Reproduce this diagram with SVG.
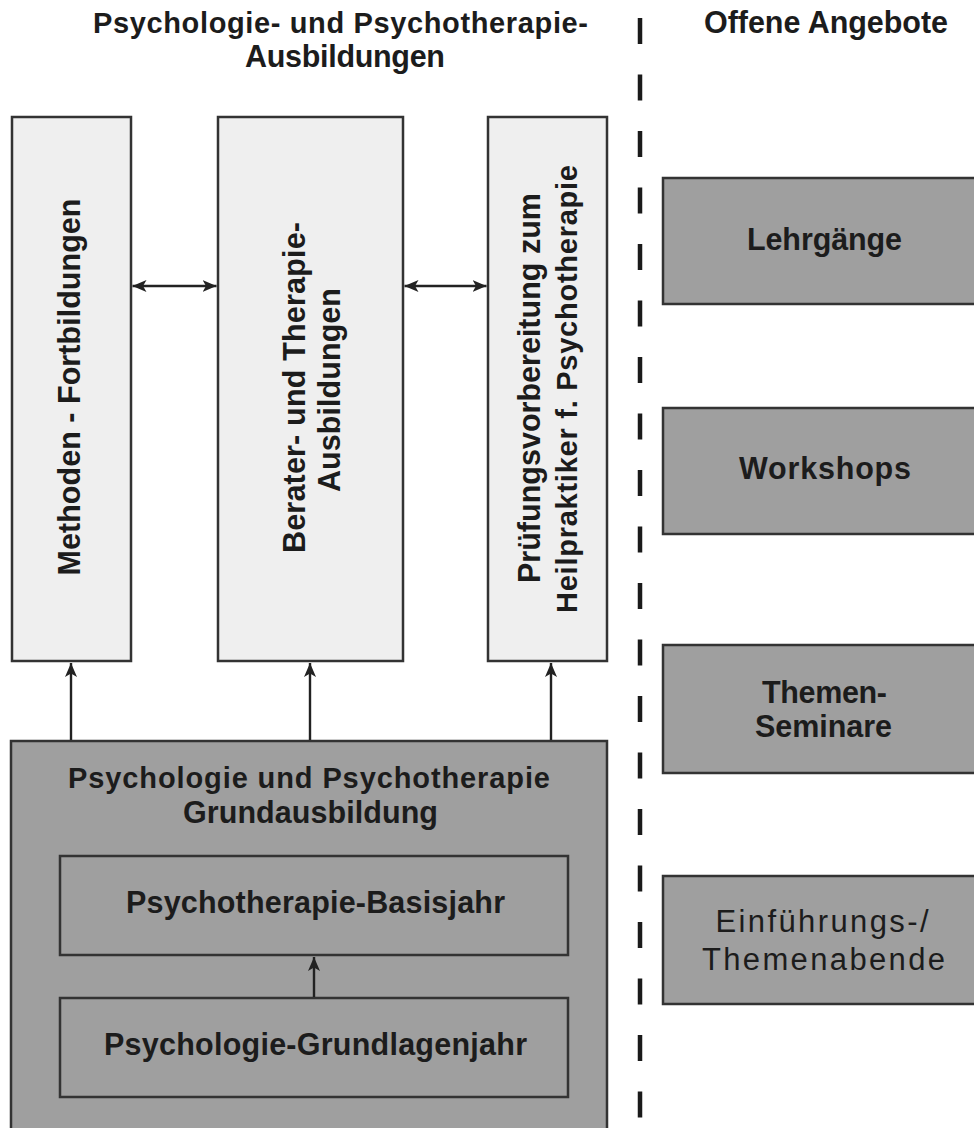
<svg xmlns="http://www.w3.org/2000/svg" width="974" height="1128" viewBox="0 0 974 1128">
<style>
.light{fill:#efefef;stroke:#333;stroke-width:2.5}
.dark{fill:#9f9f9f;stroke:#333;stroke-width:2.5}
.b{font-family:"Liberation Sans",Arial,sans-serif;font-weight:bold;font-size:30.5px;fill:#1c1c1c;text-anchor:middle}
.r{font-family:"Liberation Sans",Arial,sans-serif;font-weight:normal;font-size:31px;fill:#1c1c1c;text-anchor:middle}
.conn{stroke:#222;stroke-width:2.4;fill:none}
</style>
<defs>
<marker id="ah" viewBox="0 0 14 12" refX="14" refY="6" markerWidth="14" markerHeight="12" markerUnits="userSpaceOnUse" orient="auto-start-reverse">
<path d="M0,0 L14,6 L0,12 L3.5,6 z" fill="#222"/>
</marker>
</defs>
<rect width="974" height="1128" fill="#fff"/>
<g id="headers">
<text class="b" x="340.5" y="33" textLength="495" style="font-size:29px">Psychologie- und Psychotherapie-</text>
<text class="b" x="345" y="67" textLength="200">Ausbildungen</text>
<text class="b" x="826" y="33" textLength="244">Offene Angebote</text>
</g>
<g id="divider">
<line x1="640" y1="18" x2="640" y2="1128" stroke="#1a1a1a" stroke-width="4.5" stroke-dasharray="26 30.5"/>
</g>
<g id="methoden">
<rect class="light" x="12" y="117" width="119" height="544"/>
<text class="b" transform="translate(80,387) rotate(-90)" textLength="377">Methoden - Fortbildungen</text>
</g>
<g id="berater">
<rect class="light" x="218" y="117" width="185" height="544"/>
<text class="b" transform="translate(305,387.5) rotate(-90)" textLength="331">Berater- und Therapie-</text>
<text class="b" transform="translate(340,390) rotate(-90)" textLength="204">Ausbildungen</text>
</g>
<g id="pruefung">
<rect class="light" x="488" y="117" width="119" height="544"/>
<text class="b" transform="translate(540,388) rotate(-90)" textLength="390">Prüfungsvorbereitung zum</text>
<text class="b" transform="translate(577,389) rotate(-90)" textLength="448" style="font-size:29px">Heilpraktiker f. Psychotherapie</text>
</g>
<g id="grundausbildung">
<rect class="dark" x="11" y="741" width="596" height="400"/>
<text class="b" x="309" y="788" textLength="482" style="font-size:29px">Psychologie und Psychotherapie</text>
<text class="b" x="310.5" y="823" textLength="255">Grundausbildung</text>
</g>
<g id="basisjahr">
<rect class="dark" x="60" y="856" width="508" height="99"/>
<text class="b" x="315.5" y="913" textLength="379">Psychotherapie-Basisjahr</text>
</g>
<g id="grundlagenjahr">
<rect class="dark" x="60" y="998" width="508" height="99"/>
<text class="b" x="315.5" y="1055" textLength="423">Psychologie-Grundlagenjahr</text>
</g>
<g id="lehrgaenge">
<rect class="dark" x="663" y="178" width="330" height="126"/>
<text class="b" x="824.5" y="250" textLength="155">Lehrgänge</text>
</g>
<g id="workshops">
<rect class="dark" x="663" y="408" width="330" height="126"/>
<text class="b" x="825" y="479" textLength="172">Workshops</text>
</g>
<g id="themenseminare">
<rect class="dark" x="663" y="645" width="330" height="128"/>
<text class="b" x="824.5" y="703" textLength="125">Themen-</text>
<text class="b" x="823.5" y="737" textLength="137">Seminare</text>
</g>
<g id="themenabende">
<rect class="dark" x="663" y="876" width="330" height="128"/>
<text class="r" x="822" y="932" textLength="213">Einführungs-/</text>
<text class="r" x="823.5" y="970" textLength="243">Themenabende</text>
</g>
<g id="connectors">
<line class="conn" x1="132.5" y1="286" x2="216.5" y2="286" marker-start="url(#ah)" marker-end="url(#ah)"/>
<line class="conn" x1="404.5" y1="286" x2="486.5" y2="286" marker-start="url(#ah)" marker-end="url(#ah)"/>
<line class="conn" x1="71" y1="740" x2="71" y2="663" marker-end="url(#ah)"/>
<line class="conn" x1="310" y1="740" x2="310" y2="663" marker-end="url(#ah)"/>
<line class="conn" x1="551" y1="740" x2="551" y2="663" marker-end="url(#ah)"/>
<line class="conn" x1="314" y1="997" x2="314" y2="957" marker-end="url(#ah)"/>
</g>
</svg>
